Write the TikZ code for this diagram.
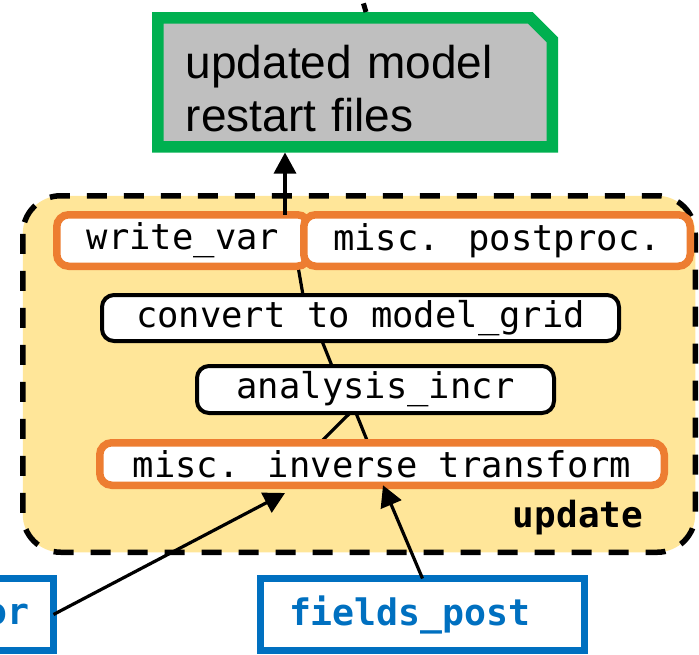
\documentclass[tikz,border=0pt]{standalone}
\usepackage{fontspec}
\newfontfamily\arialfont{Liberation Sans}
\newfontfamily\codefont{DejaVu Sans Mono}
\usetikzlibrary{arrows.meta, backgrounds}

\definecolor{updyellow}{HTML}{FFE699}
\definecolor{outgreen}{HTML}{00B050}
\definecolor{outgray}{HTML}{BFBFBF}
\definecolor{steporange}{HTML}{ED7D31}
\definecolor{inblue}{HTML}{0070C0}

\pgfdeclarelayer{lines}
\pgfsetlayers{background,lines,main}

\begin{document}
\begin{tikzpicture}[
    x = 1pt, y = -1pt,
    every node/.style = {outer sep = 0pt, inner sep = 0pt},
    codetext/.style = {font = \codefont\fontsize{35.5}{40}\selectfont},
    plainstep/.style = {codetext, draw, line width = 4pt, fill = white,
      rounded corners = 12pt},
    orangestep/.style = {plainstep, draw = steporange, line width = 7.5pt},
    fieldbox/.style = {draw = inblue, line width = 7pt, fill = white,
      text = inblue, minimum height = 72pt,
      font = \codefont\bfseries\fontsize{36.5}{40}\selectfont},
    flow/.style = {line width = 3.2pt},
    arr/.style = {flow, -{Triangle[length = 21pt, width = 22pt]}}
  ]
  \useasboundingbox (0,0) rectangle (699,654);

  % output files
  \node[font = \arialfont\fontsize{46}{53}\selectfont,
    minimum width = 394.5pt, minimum height = 129pt,
    text width = 338.5pt, align = left]
    (upd) at (355,82.25) {\rule{0pt}{46.5pt}updated model\\restart files};
  \coordinate (abv) at (355,-25);

  % update steps
  \node[orangestep, minimum width = 252.5pt, minimum height = 51.5pt]
    (wvar) at (183,240.5) {write\_var};
  \node[orangestep, minimum width = 386.5pt, minimum height = 51.5pt]
    (post) at (497,240.5) {misc. postproc.};
  \node[plainstep, minimum width = 517pt, minimum height = 46pt]
    (conv) at (360.5,318) {convert to model\_grid};
  \node[plainstep, minimum width = 357pt, minimum height = 47pt]
    (incr) at (375.5,389.5) {analysis\_incr};
  \node[orangestep, minimum width = 564.5pt, minimum height = 42.5pt]
    (inv) at (382,464) {misc. inverse transform};
  \node[font = \codefont\bfseries\fontsize{36}{40}\selectfont, anchor = base]
    (updlbl) at (578,527) {update};

  % input fields
  \node[fieldbox, minimum width = 324pt, text width = 267pt, align = left]
    (fpost) at (422.5,614.5) {fields\_post};
  \node[fieldbox, inner xsep = 24.5pt, anchor = east]
    (fprior) at (53.5,614.5) {or};

  \begin{scope}[on background layer]
    \draw[fill = updyellow, line width = 5.5pt,
      dash pattern = on 20pt off 17pt, rounded corners = 38pt]
      (22.75,195.75) rectangle (695.25,552.25);
    \draw[draw = outgreen, fill = outgray, line width = 11.5pt]
      (upd.south west) -- (upd.north west) -- ([xshift=-22pt]upd.north east)
      -- ([yshift=-22pt]upd.north east) -- (upd.south east) -- cycle;
  \end{scope}

  % connectors
  \begin{pgfonlayer}{lines}
    \draw[flow] ([xshift=-62pt]inv.north) -- ([xshift=-25.5pt]incr.south);
    \draw[flow] ([xshift=-14pt]inv.north) -- ([xshift=-19.5pt]incr.south);
    \draw[flow] ([xshift=-43.5pt]incr.north) -- ([xshift=-38.5pt]conv.south);
    \draw[flow] ([xshift=-57.5pt]conv.north) -- ([xshift=115pt]wvar.south);
  \end{pgfonlayer}
  \draw[arr] (fprior.east) -- ([xshift=-97pt, yshift=-7.75pt]inv.south);
  \draw[arr] (fpost.north) -- ([xshift=1pt]inv.south);
  \draw[arr, shorten >= 5.75pt] ([xshift=102pt]wvar.north) -- ([xshift=-70pt]upd.south);
  \draw[line width = 5pt, dash pattern = on 9pt off 20pt]
    ([xshift=11pt, yshift=5.75pt]upd.north) -- (abv);
\end{tikzpicture}
\end{document}
